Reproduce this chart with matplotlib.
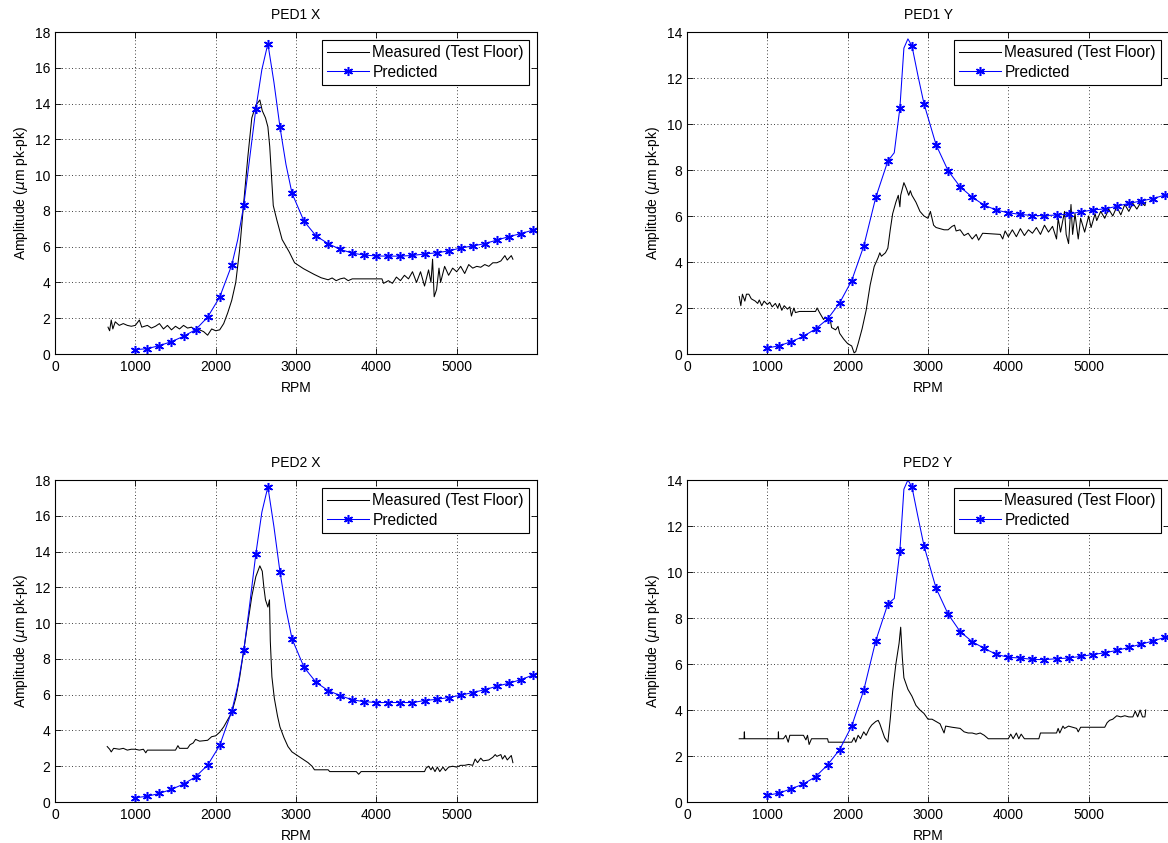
import numpy as np
import matplotlib
matplotlib.use("Agg")
import matplotlib.pyplot as plt

plt.rcParams["font.family"] = ["Liberation Sans", "DejaVu Sans"]

# ---------------- data ----------------
# Predicted response, markers every 150 RPM (plus a few extra points near the peak)
ped1x_pred_rpm = [1000, 1150, 1300, 1450, 1600, 1750, 1900, 2050, 2200, 2275, 2350, 2425,
                  2500, 2575, 2650, 2725, 2800, 2875, 2950, 3100, 3250, 3400, 3550, 3700,
                  3850, 4000, 4150, 4300, 4450, 4600, 4750, 4900, 5050, 5200, 5350, 5500,
                  5650, 5800, 5950, 6000]
ped1x_pred_amp = [0.24, 0.30, 0.47, 0.69, 0.99, 1.36, 2.06, 3.18, 4.97, 6.4, 8.32, 11.0,
                  13.7, 15.9, 17.35, 15.2, 12.7, 10.6, 8.99, 7.42, 6.60, 6.17, 5.85, 5.64,
                  5.53, 5.48, 5.47, 5.47, 5.51, 5.59, 5.66, 5.76, 5.93, 6.04, 6.17, 6.37,
                  6.56, 6.73, 6.93, 6.98]

ped1y_pred_rpm = [1000, 1150, 1300, 1450, 1600, 1750, 1900, 2050, 2200, 2350, 2500, 2580,
                  2650, 2700, 2750, 2800, 2875, 2950, 3100, 3250, 3400, 3550, 3700, 3850,
                  4000, 4150, 4300, 4450, 4600, 4750, 4900, 5050, 5200, 5350, 5500, 5650,
                  5800, 5950, 6000]
ped1y_pred_amp = [0.26, 0.36, 0.54, 0.77, 1.09, 1.52, 2.22, 3.19, 4.69, 6.81, 8.39, 8.75,
                  10.7, 13.3, 13.7, 13.4, 12.1, 10.88, 9.10, 7.97, 7.27, 6.82, 6.47, 6.26,
                  6.14, 6.07, 6.02, 6.02, 6.04, 6.08, 6.18, 6.26, 6.31, 6.42, 6.55, 6.65,
                  6.76, 6.91, 6.95]

ped2x_pred_rpm = [1000, 1150, 1300, 1450, 1600, 1750, 1900, 2050, 2200, 2275, 2350, 2425,
                  2500, 2575, 2650, 2725, 2800, 2875, 2950, 3100, 3250, 3400, 3550, 3700,
                  3850, 4000, 4150, 4300, 4450, 4600, 4750, 4900, 5050, 5200, 5350, 5500,
                  5650, 5800, 5950, 6000]
ped2x_pred_amp = [0.24, 0.32, 0.48, 0.71, 1.00, 1.41, 2.06, 3.16, 5.07, 6.5, 8.48, 11.1,
                  13.87, 16.2, 17.62, 15.4, 12.88, 10.8, 9.13, 7.53, 6.69, 6.23, 5.95, 5.71,
                  5.61, 5.56, 5.56, 5.56, 5.56, 5.67, 5.74, 5.84, 5.97, 6.12, 6.28, 6.47,
                  6.64, 6.84, 7.10, 7.15]

ped2y_pred_rpm = [1000, 1150, 1300, 1450, 1600, 1750, 1900, 2050, 2200, 2350, 2500, 2580,
                  2650, 2700, 2750, 2800, 2875, 2950, 3100, 3250, 3400, 3550, 3700, 3850,
                  4000, 4150, 4300, 4450, 4600, 4750, 4900, 5050, 5200, 5350, 5500, 5650,
                  5800, 5950, 6000]
ped2y_pred_amp = [0.29, 0.39, 0.58, 0.78, 1.10, 1.61, 2.28, 3.30, 4.86, 7.01, 8.61, 8.85,
                  10.93, 13.6, 14.0, 13.7, 12.4, 11.14, 9.30, 8.17, 7.41, 6.97, 6.68, 6.42,
                  6.29, 6.26, 6.20, 6.19, 6.23, 6.26, 6.33, 6.41, 6.49, 6.59, 6.72, 6.86,
                  7.00, 7.16, 7.20]

# Measured on the test floor
ped1x_meas_rpm = [660, 680, 700, 720, 750, 800, 850, 900, 950, 1000, 1050, 1080, 1150, 1200,
                  1250, 1300, 1350, 1400, 1450, 1500, 1550, 1600, 1650, 1700, 1750, 1800,
                  1850, 1900, 1950, 2000, 2050, 2100, 2150, 2200, 2250, 2300, 2350, 2400,
                  2450, 2500, 2550, 2580, 2620, 2650, 2673, 2717, 2761, 2827, 2916, 2982,
                  3093, 3226, 3314, 3400, 3450, 3500, 3550, 3600, 3650, 3700, 3750, 4070,
                  4090, 4150, 4200, 4250, 4300, 4350, 4400, 4450, 4500, 4550, 4600, 4650,
                  4680, 4700, 4720, 4750, 4780, 4800, 4850, 4900, 4950, 5000, 5050, 5100,
                  5150, 5200, 5250, 5300, 5350, 5400, 5450, 5500, 5550, 5600, 5630, 5680,
                  5700]
ped1x_meas_amp = [1.5, 1.3, 1.9, 1.4, 1.8, 1.6, 1.7, 1.6, 1.55, 1.6, 1.9, 1.5, 1.6, 1.45,
                  1.55, 1.7, 1.4, 1.6, 1.35, 1.55, 1.4, 1.6, 1.45, 1.5, 1.3, 1.35,
                  1.25, 1.05, 1.4, 1.3, 1.35, 1.7, 2.3, 3.0, 4.0, 5.9, 8.5, 11.0,
                  13.2, 13.9, 14.2, 13.6, 13.2, 12.7, 11.6, 8.3, 7.5, 6.4, 5.7, 5.1,
                  4.77, 4.45, 4.26, 4.15, 4.25, 4.1, 4.2, 4.25, 4.1, 4.2, 4.2, 4.2,
                  3.95, 4.1, 3.95, 4.3, 4.1, 4.4, 4.2, 4.6, 4.0, 4.6, 3.8, 4.7,
                  4.0, 5.3, 3.2, 3.6, 4.8, 4.0, 4.9, 4.4, 4.8, 4.6, 4.9, 4.5,
                  5.0, 4.8, 4.9, 4.85, 5.0, 4.9, 5.1, 5.1, 5.2, 5.5, 5.25, 5.5,
                  5.3]

ped1y_meas_rpm = [650, 670, 690, 720, 740, 770, 800, 850, 880, 900, 930, 960, 1000, 1030,
                  1060, 1100, 1130, 1150, 1180, 1210, 1250, 1280, 1300, 1330, 1350, 1400,
                  1600, 1620, 1650, 1700, 1720, 1750, 1780, 1800, 1850, 1880, 1900, 1950,
                  2000, 2050, 2080, 2100, 2130, 2180, 2230, 2280, 2330, 2380, 2400, 2420,
                  2470, 2500, 2530, 2560, 2600, 2630, 2650, 2660, 2700, 2730, 2760, 2780,
                  2800, 2850, 2900, 2950, 3000, 3030, 3070, 3100, 3150, 3200, 3250, 3300,
                  3330, 3350, 3400, 3450, 3500, 3550, 3600, 3630, 3680, 3900, 3930, 3960,
                  4000, 4050, 4100, 4150, 4200, 4250, 4300, 4350, 4400, 4450, 4500, 4550,
                  4600, 4620, 4650, 4700, 4720, 4750, 4780, 4800, 4830, 4870, 4900, 4950,
                  5000, 5030, 5080, 5100, 5150, 5200, 5250, 5300, 5350, 5400, 5450, 5500,
                  5550, 5600, 5650, 5700, 5710]
ped1y_meas_amp = [2.5, 2.1, 2.6, 2.3, 2.6, 2.6, 2.4, 2.3, 2.2, 2.35, 2.1, 2.3, 2.15, 2.25,
                  2.05, 2.2, 2.0, 2.2, 1.9, 2.1, 1.95, 2.05, 1.65, 2.0, 1.8, 1.85,
                  1.85, 2.0, 1.8, 1.5, 1.6, 1.5, 1.55, 1.15, 1.05, 1.2, 0.9, 0.65,
                  0.45, 0.35, 0.05, 0.1, 0.45, 1.1, 1.9, 3.0, 3.8, 4.2, 4.4, 4.25,
                  4.4, 4.6, 5.4, 6.1, 6.6, 6.9, 6.4, 6.9, 7.45, 7.2, 6.9, 7.1,
                  6.9, 6.6, 6.2, 6.0, 5.9, 6.2, 5.6, 5.5, 5.45, 5.4, 5.4, 5.55,
                  5.6, 5.35, 5.4, 5.15, 5.25, 5.0, 5.2, 4.95, 5.25, 5.2, 5.0, 5.35,
                  5.1, 5.4, 5.1, 5.45, 5.15, 5.4, 5.25, 5.5, 5.2, 5.6, 5.3, 5.55,
                  5.0, 5.9, 5.3, 6.2, 5.2, 4.8, 6.5, 5.2, 6.1, 5.0, 5.9, 5.3,
                  6.0, 5.5, 6.1, 5.8, 6.2, 5.9, 6.3, 6.0, 6.4, 6.05, 6.5, 6.2,
                  6.55, 6.3, 6.6, 6.45, 6.6]

ped2x_meas_rpm = [650, 680, 700, 730, 800, 850, 900, 950, 1000, 1050, 1100, 1130, 1150, 1500,
                  1530, 1550, 1650, 1680, 1720, 1750, 1800, 1900, 1950, 2000, 2050, 2100,
                  2150, 2200, 2250, 2300, 2350, 2400, 2450, 2500, 2550, 2580, 2600, 2620,
                  2650, 2670, 2680, 2700, 2730, 2770, 2800, 2850, 2900, 2950, 3000, 3050,
                  3100, 3150, 3200, 3230, 3400, 3420, 3750, 3780, 3810, 4600, 4620, 4650,
                  4680, 4700, 4730, 4760, 4790, 4830, 4860, 4900, 4950, 5000, 5050, 5100,
                  5150, 5200, 5230, 5260, 5300, 5330, 5400, 5450, 5480, 5500, 5550, 5570,
                  5600, 5630, 5680, 5700]
ped2x_meas_amp = [3.1, 2.95, 2.8, 3.0, 2.95, 3.0, 2.9, 2.95, 2.95, 2.9, 2.95, 2.75, 2.9, 2.9,
                  3.15, 3.0, 3.0, 3.2, 3.3, 3.5, 3.4, 3.45, 3.65, 3.7, 3.9, 4.2,
                  4.6, 5.0, 5.8, 7.0, 8.5, 10.0, 11.5, 12.6, 13.2, 12.9, 12.0, 11.3,
                  10.9, 11.3, 9.0, 7.0, 5.8, 4.8, 4.2, 3.6, 3.1, 2.8, 2.65, 2.5,
                  2.35, 2.2, 2.0, 1.8, 1.8, 1.7, 1.7, 1.55, 1.7, 1.7, 1.9, 2.0,
                  1.8, 1.95, 1.7, 1.95, 1.7, 1.95, 1.75, 1.95, 2.0, 1.95, 2.05, 2.05,
                  2.1, 2.05, 2.4, 2.2, 2.45, 2.3, 2.35, 2.5, 2.65, 2.55, 2.65, 2.4,
                  2.6, 2.35, 2.6, 2.2]

ped2y_meas_rpm = [650, 710, 714, 718, 1135, 1138, 1141, 1200, 1230, 1260, 1280, 1450, 1480,
                  1500, 1520, 1550, 1750, 1760, 2050, 2080, 2100, 2130, 2160, 2200, 2230,
                  2270, 2300, 2350, 2380, 2400, 2430, 2460, 2500, 2530, 2560, 2600, 2640,
                  2660, 2680, 2700, 2750, 2800, 2850, 2900, 2950, 3000, 3050, 3100, 3150,
                  3200, 3220, 3300, 3400, 3450, 3500, 3550, 3600, 3650, 3700, 3750, 4000,
                  4030, 4060, 4100, 4130, 4160, 4200, 4380, 4400, 4600, 4620, 4640, 4680,
                  4700, 4750, 4800, 4850, 4870, 4900, 5200, 5230, 5260, 5300, 5350, 5400,
                  5450, 5500, 5550, 5580, 5610, 5640, 5670, 5700, 5710]
ped2y_meas_amp = [2.75, 2.75, 3.05, 2.75, 2.75, 3.05, 2.75, 2.75, 2.9, 2.6, 2.9, 2.9, 2.7,
                  2.9, 2.5, 2.75, 2.75, 2.6, 2.6, 2.8, 2.6, 2.9, 2.75, 3.05, 2.9,
                  3.2, 3.35, 3.5, 3.55, 3.4, 3.1, 2.8, 2.6, 3.6, 4.8, 6.0, 6.9,
                  7.6, 6.3, 5.4, 4.9, 4.6, 4.2, 4.0, 3.85, 3.6, 3.6, 3.5, 3.4,
                  3.0, 3.3, 3.25, 3.2, 3.05, 3.0, 3.0, 2.95, 3.0, 2.9, 2.75, 2.75,
                  2.95, 2.75, 3.0, 2.75, 2.95, 2.75, 2.75, 3.0, 3.0, 3.2, 3.0, 3.3,
                  3.2, 3.3, 3.25, 3.2, 3.05, 3.25, 3.25, 3.45, 3.55, 3.6, 3.75, 3.7,
                  3.75, 3.7, 3.7, 3.95, 3.7, 4.0, 3.7, 3.7, 4.0]

panel_titles = ["PED1 X", "PED1 Y", "PED2 X", "PED2 Y"]
panel_ymax = [18, 14, 18, 14]
x_ticks = [0, 1000, 2000, 3000, 4000, 5000]
marker_rpm = np.arange(1000, 6000, 150)

panels = [
    (ped1x_meas_rpm, ped1x_meas_amp, ped1x_pred_rpm, ped1x_pred_amp),
    (ped1y_meas_rpm, ped1y_meas_amp, ped1y_pred_rpm, ped1y_pred_amp),
    (ped2x_meas_rpm, ped2x_meas_amp, ped2x_pred_rpm, ped2x_pred_amp),
    (ped2y_meas_rpm, ped2y_meas_amp, ped2y_pred_rpm, ped2y_pred_amp),
]

# ---------------- layout ----------------
W, H = 1168, 843
fig = plt.figure(figsize=(W / 100, H / 100), dpi=100)
fig.patch.set_facecolor("white")

ax_w = 482 / W
ax_h = 322 / H
lefts = [55 / W, 687 / W]
bottoms = [1 - 354 / H, 1 - 802 / H]

FS = 10
LFS = 11.2
for i, (title, ymax, (mr, ma, pr, pa)) in enumerate(zip(panel_titles, panel_ymax, panels)):
    row, col = divmod(i, 2)
    ax = fig.add_axes([lefts[col], bottoms[row], ax_w, ax_h])

    ax.plot(mr, ma, color="black", lw=0.75, label="Measured (Test Floor)")
    pr_arr = np.asarray(pr)
    mask = np.isin(pr_arr, marker_rpm)
    ax.plot(pr, pa, color=(0, 0, 1), lw=0.75, marker=(6, 2, 0), markersize=6.5,
            markeredgewidth=1.1, markevery=list(mask), label="Predicted")

    ax.set_xlim(0, 6000)
    ax.set_ylim(0, ymax)
    ax.set_xticks(x_ticks)
    ax.set_yticks(np.arange(0, ymax + 1, 2))
    ax.grid(True, color="black", linestyle=(0, (1, 3)), linewidth=0.6)
    ax.tick_params(direction="in", length=4, width=0.6, top=True, right=True,
                   labelsize=FS, pad=3.5)
    ax.tick_params(axis="x", pad=4.5)
    for s in ax.spines.values():
        s.set_linewidth(0.8)
    ax.set_title(title, fontsize=FS, pad=9.5)
    ax.set_xlabel("RPM", fontsize=FS, labelpad=5)
    ax.set_ylabel("Amplitude ($\\mu$m pk-pk)", fontsize=FS, labelpad=3)

    leg = ax.legend(loc="upper right", fontsize=LFS, handlelength=2.7, fancybox=False,
                    framealpha=1, edgecolor="black", borderpad=0.35, labelspacing=0.3,
                    handletextpad=0.2, borderaxespad=0.5)
    leg.get_frame().set_linewidth(0.8)

fig.savefig("out.png", dpi=100)
